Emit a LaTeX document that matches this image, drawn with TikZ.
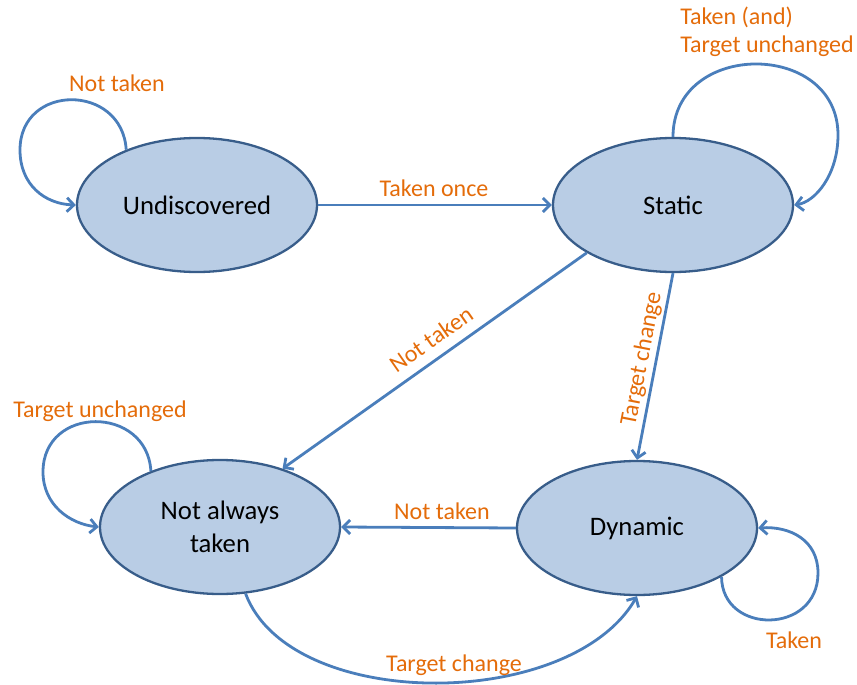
\documentclass[tikz,border=0pt]{standalone}
\usepackage{fontspec}
\setmainfont{Carlito}
\usetikzlibrary{shapes.geometric,arrows.meta}

\definecolor{statefill}{HTML}{B9CDE5}
\definecolor{stateline}{HTML}{385D8A}
\definecolor{edgeblue}{HTML}{4A7EBB}
\definecolor{labelorange}{HTML}{E46C0A}

\tikzset{
  state/.style={ellipse, draw=stateline, fill=statefill, line width=2.3pt,
    minimum width=240pt, minimum height=134pt, inner sep=0pt,
    align=center, font=\fontsize{26.7}{33}\selectfont},
  trans/.style={draw=edgeblue, line width=2.8pt,
    -{Straight Barb[length=7pt,width=14pt,line width=2.8pt]}},
  lbl/.style={text=labelorange, inner sep=0pt, align=left,
    font=\fontsize{24}{28}\selectfont}
}

\begin{document}
\begin{tikzpicture}[x=1pt,y=-1pt]
  \useasboundingbox (0,0) rectangle (857,685);

  % states
  \node[state] (u) at (197,205) {Undiscovered};
  \node[state] (s) at (673,205) {Static};
  \node[state] (n) at (220,527) {Not always\\taken};
  \node[state] (d) at (637,528) {Dynamic};

  % transitions between states
  \draw[trans] (u.east) -- (s.west);
  \draw[trans] (s.209) -- (n.43);
  \draw[trans] (s.south) -- (d.north);
  \draw[trans] (d.west) -- (n.east);
  \draw[trans] (n.-69) .. controls (290,712) and (570,712) .. (d.south);

  % self loops
  \draw[trans] (u.142) .. controls (122,83) and (20,83) .. (20,150)
                       .. controls (20,185) and (45,204) .. (u.west);
  \draw[trans] (s.north) .. controls (673,40) and (838,40) .. (838,135)
                         .. controls (838,175) and (815,202) .. (s.east);
  \draw[trans] (n.141) .. controls (147,405) and (43,405) .. (43,472)
                       .. controls (43,505) and (70,524) .. (n.west);
  \draw[trans] (d.330) .. controls (722,635) and (818,635) .. (818,573)
                       .. controls (818,540) and (790,526) .. (d.east);

  % transition labels
  \node[lbl] (l1) at (434,188) {Taken once};
  \node[lbl] (l2) at (117,83) {Not taken};
  \node[lbl] (l3) at (767,32) {Taken (and)\\Target unchanged};
  \node[lbl, rotate=35] (l4) at (431,339) {Not taken};
  \node[lbl, rotate=79] (l5) at (642,359) {Target change};
  \node[lbl] (l6) at (442,511) {Not taken};
  \node[lbl] (l7) at (100,411) {Target unchanged};
  \node[lbl] (l8) at (794,640) {Taken};
  \node[lbl] (l9) at (454,665) {Target change};
\end{tikzpicture}
\end{document}
